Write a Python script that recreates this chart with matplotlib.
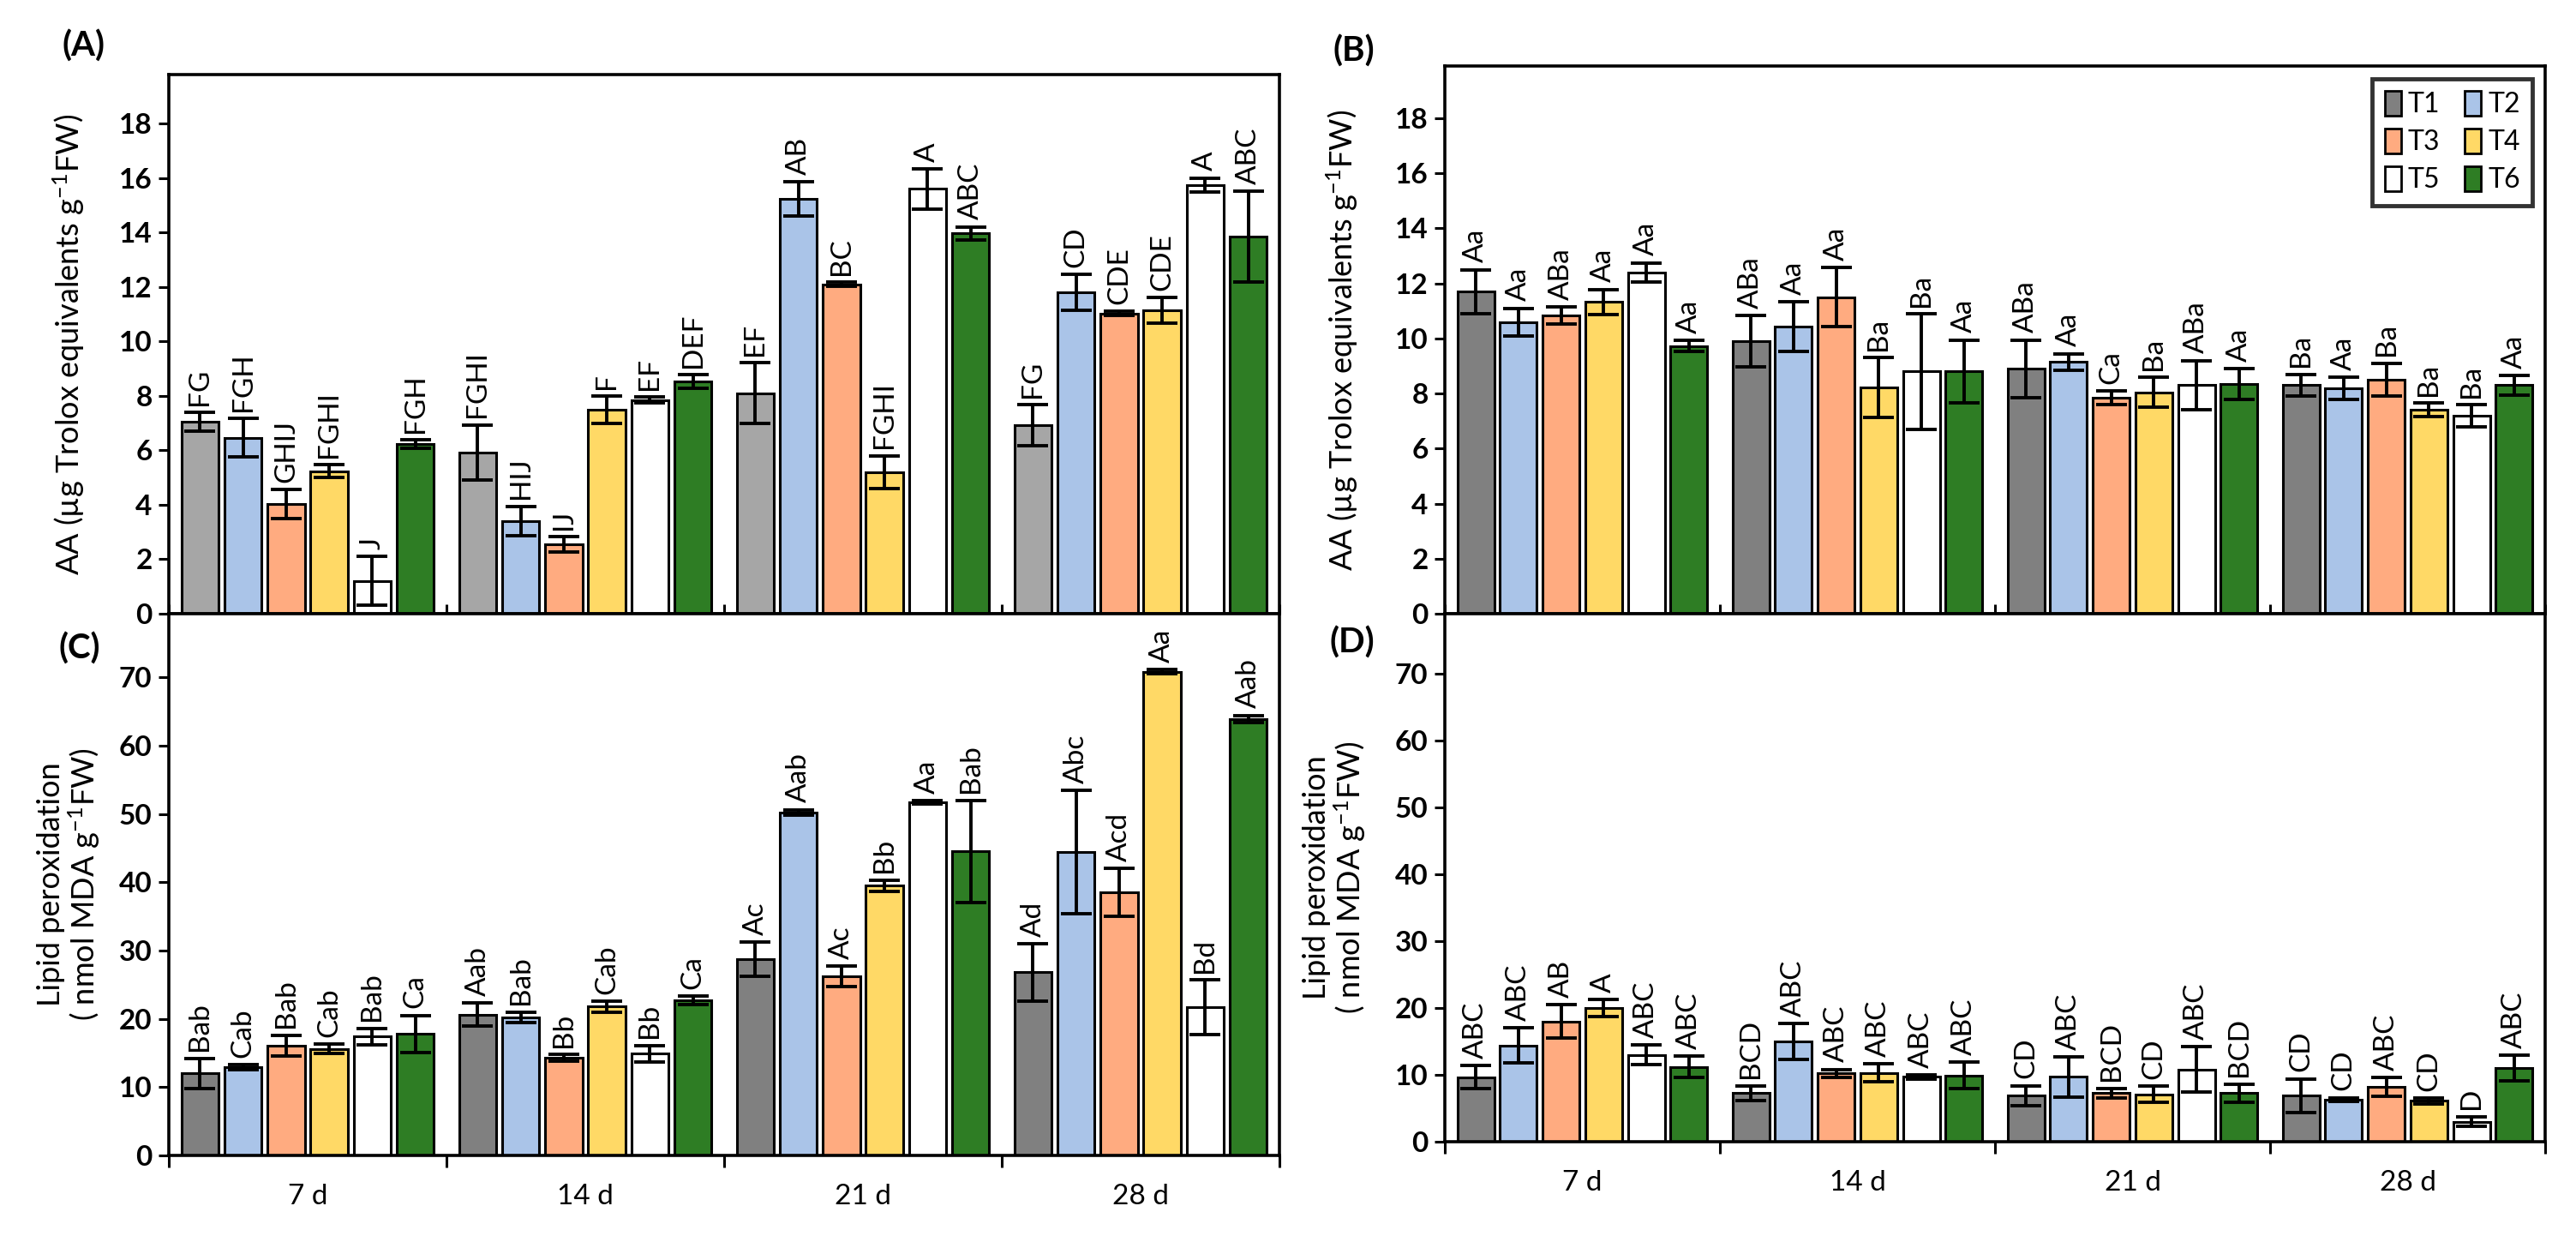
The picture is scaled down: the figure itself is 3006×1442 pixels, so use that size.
import matplotlib
matplotlib.use('Agg')
import matplotlib.pyplot as plt
import numpy as np
from matplotlib.patches import Patch

plt.rcParams['font.family'] = ['Lato', 'DejaVu Sans']
plt.rcParams['mathtext.fontset'] = 'custom'
plt.rcParams['mathtext.rm'] = 'Lato'
plt.rcParams['mathtext.it'] = 'Lato'
plt.rcParams['mathtext.bf'] = 'Lato:bold'

days = ['7 d', '14 d', '21 d', '28 d']
treatments = ['T1', 'T2', 'T3', 'T4', 'T5', 'T6']

# ---- Panel A : AA (rows = T1..T6, cols = 7,14,21,28 d)
a_mean = [
    [7.05, 5.92, 8.10, 6.93],
    [6.46, 3.40, 15.24, 11.80],
    [4.03, 2.55, 12.10, 11.03],
    [5.23, 7.50, 5.20, 11.15],
    [1.20, 7.85, 15.60, 15.74],
    [6.23, 8.53, 13.97, 13.84],
]
a_err = [
    [0.35, 1.02, 1.12, 0.75],
    [0.71, 0.55, 0.63, 0.65],
    [0.53, 0.28, 0.08, 0.08],
    [0.24, 0.50, 0.60, 0.47],
    [0.90, 0.10, 0.73, 0.26],
    [0.15, 0.24, 0.24, 1.67],
]
a_let = [
    ['FG', 'FGHI', 'EF', 'FG'],
    ['FGH', 'HIJ', 'AB', 'CD'],
    ['GHIJ', 'IJ', 'BC', 'CDE'],
    ['FGHI', 'F', 'FGHI', 'CDE'],
    ['J', 'EF', 'A', 'A'],
    ['FGH', 'DEF', 'ABC', 'ABC'],
]

# ---- Panel B : AA
b_mean = [
    [11.70, 9.90, 8.90, 8.30],
    [10.60, 10.44, 9.15, 8.20],
    [10.84, 11.50, 7.85, 8.50],
    [11.33, 8.22, 8.05, 7.40],
    [12.40, 8.80, 8.30, 7.20],
    [9.72, 8.80, 8.35, 8.30],
]
b_err = [
    [0.80, 0.93, 1.05, 0.40],
    [0.50, 0.90, 0.30, 0.40],
    [0.30, 1.07, 0.25, 0.60],
    [0.45, 1.08, 0.55, 0.25],
    [0.35, 2.10, 0.90, 0.40],
    [0.20, 1.14, 0.55, 0.35],
]
b_let = [
    ['Aa', 'ABa', 'ABa', 'Ba'],
    ['Aa', 'Aa', 'Aa', 'Aa'],
    ['ABa', 'Aa', 'Ca', 'Ba'],
    ['Aa', 'Ba', 'Ba', 'Ba'],
    ['Aa', 'Ba', 'ABa', 'Ba'],
    ['Aa', 'Aa', 'Aa', 'Aa'],
]

# ---- Panel C : lipid peroxidation
c_mean = [
    [12.0, 20.6, 28.7, 26.8],
    [12.9, 20.2, 50.2, 44.4],
    [16.1, 14.3, 26.2, 38.5],
    [15.6, 21.8, 39.5, 70.8],
    [17.4, 14.9, 51.7, 21.7],
    [17.8, 22.7, 44.5, 63.9],
]
c_err = [
    [2.2, 1.7, 2.5, 4.2],
    [0.4, 0.8, 0.4, 9.0],
    [1.5, 0.5, 1.5, 3.5],
    [0.7, 0.8, 0.8, 0.3],
    [1.2, 1.2, 0.2, 4.0],
    [2.7, 0.6, 7.5, 0.5],
]
c_let = [
    ['Bab', 'Aab', 'Ac', 'Ad'],
    ['Cab', 'Bab', 'Aab', 'Abc'],
    ['Bab', 'Bb', 'Ac', 'Acd'],
    ['Cab', 'Cab', 'Bb', 'Aa'],
    ['Bab', 'Bb', 'Aa', 'Bd'],
    ['Ca', 'Ca', 'Bab', 'Aab'],
]

# ---- Panel D : lipid peroxidation
d_mean = [
    [9.65, 7.3, 6.9, 6.9],
    [14.4, 15.0, 9.7, 6.3],
    [18.0, 10.2, 7.3, 8.2],
    [20.0, 10.3, 7.1, 6.1],
    [13.0, 9.7, 10.8, 3.0],
    [11.2, 9.9, 7.3, 11.0],
]
d_err = [
    [1.7, 1.1, 1.5, 2.5],
    [2.6, 2.7, 3.0, 0.3],
    [2.5, 0.6, 0.7, 1.4],
    [1.3, 1.35, 1.2, 0.4],
    [1.5, 0.3, 3.4, 0.75],
    [1.6, 2.0, 1.35, 1.9],
]
d_let = [
    ['ABC', 'BCD', 'CD', 'CD'],
    ['ABC', 'ABC', 'ABC', 'CD'],
    ['AB', 'ABC', 'BCD', 'ABC'],
    ['A', 'ABC', 'CD', 'CD'],
    ['ABC', 'ABC', 'ABC', 'D'],
    ['ABC', 'ABC', 'BCD', 'ABC'],
]

colors = ['#808080', '#AAC4E8', '#FFAB80', '#FFD966', '#FFFFFF', '#2E7D24']
colors_a = ['#A6A6A6'] + colors[1:]

W, H = 3006, 1442
fig = plt.figure(figsize=(W / 100, H / 100), dpi=100)


def frac(l, t, r, b):
    return [l / W, 1 - b / H, (r - l) / W, (b - t) / H]


axA = fig.add_axes(frac(197, 87, 1493, 716))
axC = fig.add_axes(frac(197, 716, 1493, 1348))
axB = fig.add_axes(frac(1686, 77, 2970, 716))
axD = fig.add_axes(frac(1686, 716, 2970, 1332))

pitch = 0.155
bw = 0.134
x = np.arange(len(days))


def draw(ax, means, errs, lets, cols, ymax, ystep, bottom_labels):
    for j in range(len(treatments)):
        xs = x + (j - 2.5) * pitch
        ax.bar(xs, means[j], width=bw, color=cols[j], edgecolor='black',
               linewidth=2.2, zorder=2)
        ax.errorbar(xs, means[j], yerr=errs[j], fmt='none', ecolor='black',
                    elinewidth=2.8, capsize=13, capthick=2.8, zorder=3)
        for k in range(len(days)):
            ax.annotate(lets[j][k], (xs[k], means[j][k] + errs[j][k]),
                        xytext=(0, 6), textcoords='offset points',
                        rotation=90, ha='center', va='bottom',
                        fontsize=24, zorder=4)
    ax.set_xlim(-0.5, 3.5)
    ax.set_ylim(0, ymax)
    ax.set_yticks(np.arange(0, ymax - 0.5, ystep))
    for s in ax.spines.values():
        s.set_linewidth(2.6)
    ax.tick_params(axis='y', which='major', direction='out', length=9,
                   width=2.2, labelsize=24, pad=5)
    for t in ax.get_yticklabels():
        t.set_fontweight('bold')
    ax.set_xticks([-0.5, 0.5, 1.5, 2.5, 3.5])
    ax.set_xticklabels([])
    if bottom_labels:
        ax.tick_params(axis='x', which='major', direction='out', length=10,
                       width=2.2)
        ax.set_xticks(x, minor=True)
        ax.set_xticklabels(days, minor=True)
        ax.tick_params(axis='x', which='minor', length=0, labelsize=24,
                       pad=24)
    else:
        ax.tick_params(axis='x', which='major', direction='in', length=8,
                       width=2.2)


draw(axA, a_mean, a_err, a_let, colors_a, 19.8, 2, False)
draw(axB, b_mean, b_err, b_let, colors, 19.9, 2, False)
draw(axC, c_mean, c_err, c_let, colors, 79.3, 10, True)
draw(axD, d_mean, d_err, d_let, colors, 79.0, 10, True)

aa_label = 'AA (\u00b5g Trolox equivalents g$^{-1}$FW)'
lp_label = 'Lipid peroxidation\n( nmol MDA g$^{-1}$FW)'
for ax, lab, xc in [(axA, aa_label, -0.074), (axB, aa_label, -0.077),
                    (axC, lp_label, -0.060), (axD, lp_label, -0.070)]:
    ax.set_ylabel(lab, fontsize=26, linespacing=1.05)
    ax.yaxis.set_label_coords(xc, 0.5)

for txt, px, py in [('(A)', 97, 54), ('(B)', 1580, 60),
                    ('(C)', 93, 757), ('(D)', 1578, 750)]:
    fig.text(px / W, 1 - py / H, txt, fontsize=29, fontweight='bold',
             ha='center', va='center')

# legend laid out row-wise: T1 T2 / T3 T4 / T5 T6
order = [0, 2, 4, 1, 3, 5]
handles = [Patch(facecolor=colors[i], edgecolor='black', linewidth=2.0)
           for i in order]
labels = [treatments[i] for i in order]
leg = axB.legend(handles, labels, ncol=2, loc='upper right',
                 bbox_to_anchor=(0.9885, 0.977), fontsize=23,
                 frameon=True, fancybox=False, edgecolor='black',
                 handlelength=0.6, handleheight=1.0, handletextpad=0.25,
                 columnspacing=0.9, labelspacing=0.4, borderpad=0.45,
                 borderaxespad=0.0)
leg.get_frame().set_linewidth(3.5)

fig.savefig('out.png', dpi=100)
